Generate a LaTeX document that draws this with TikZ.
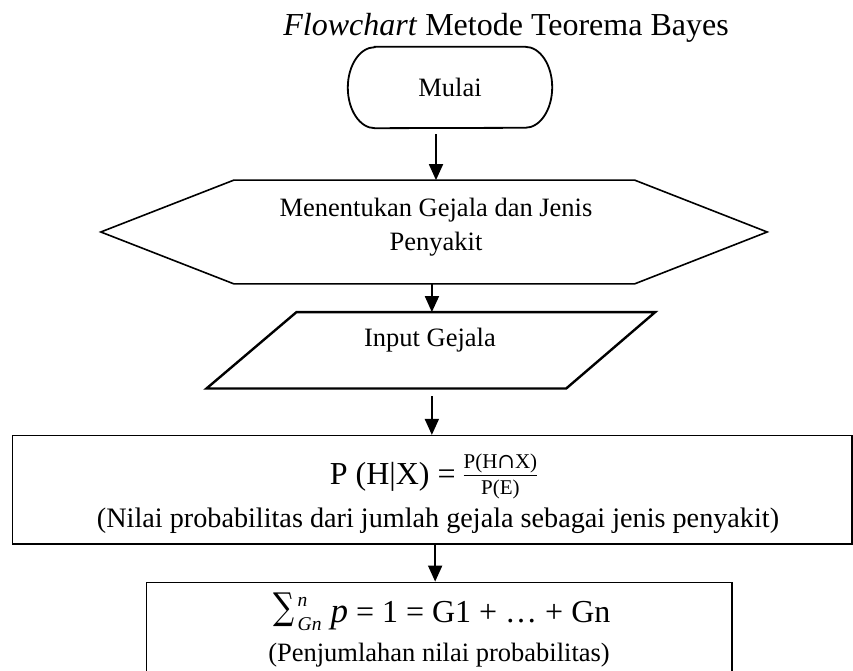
\documentclass[tikz,border=0pt]{standalone}
\usepackage{fontspec}
\setmainfont{Liberation Serif}
\newfontfamily\symfnt{DejaVu Serif}
\usetikzlibrary{arrows.meta,calc}
\newcommand{\myfrac}[2]{\raisebox{-10pt}{\vbox{\halign{\hfil\fontsize{21}{22}\selectfont##\hfil\cr #1\cr\noalign{\kern2.5pt\hrule height 1pt\kern4pt}#2\cr}}}}
\begin{document}
\begin{tikzpicture}[x=1pt,y=1pt,
  arr/.style={line width=1.8pt,-{Triangle[length=16pt,width=14pt]}},
  body/.style={font=\fontsize{26.5}{34}\selectfont},
  big/.style={font=\fontsize{32}{38}\selectfont},
  ghost/.style={inner sep=0pt},
  outline/.style={line width=1.6pt,line join=miter}]
\useasboundingbox (0,0) rectangle (853,671);
\clip (0,0) rectangle (853,671);

% title
\node[big,anchor=base,ghost] (title) at (506,635) {\textit{Flowchart} Metode Teorema Bayes};

% start terminator
\node[body,ghost,minimum width=204pt,minimum height=81pt] (mulai) at (450,583.5) {Mulai};
\draw[outline,line width=1.8pt] ($(mulai.north west)+(27,0)$) -- ($(mulai.north east)+(-27,0)$)
  arc[start angle=90,end angle=-90,x radius=27,y radius=40.5]
  -- ($(mulai.south west)+(27,0)$)
  arc[start angle=270,end angle=90,x radius=27,y radius=40.5] -- cycle;

% hexagon (preparation)
\node[ghost,minimum width=666pt,minimum height=103.3pt] (hex) at (434,439) {};
\draw[outline] (hex.west) -- ($(hex.north west)+(133,0)$) -- ($(hex.north east)+(-132.5,0)$)
  -- (hex.east) -- ($(hex.south east)+(-132.5,0)$) -- ($(hex.south west)+(133,0)$) -- cycle;
\node[body,ghost,align=center,anchor=north] (hext) at (436,473.4) {Menentukan Gejala dan Jenis\\Penyakit};

% input parallelogram
\node[ghost,minimum width=448.3pt,minimum height=76pt] (input) at (430.85,320.7) {};
\draw[outline,line width=2.4pt] ($(input.north west)+(90,0)$) -- (input.north east)
  -- ($(input.south east)+(-89,0)$) -- (input.south west) -- cycle;
\node[body,ghost,anchor=base] (inputt) at (430,324.3) {Input Gejala};

% probability box
\node[draw,line width=1.6pt,ghost,minimum width=839.7pt,minimum height=108.3pt] (pbox) at (432.15,181.15) {};
\node[big,ghost,anchor=base] (formula) at (433.5,186)
  {P (H|X) = \myfrac{P(H{\symfnt ∩}X)}{P(E)}};
\node[ghost,anchor=base,font=\fontsize{28.2}{32}\selectfont] (pdesc) at (438,143)
  {(Nilai probabilitas dari jumlah gejala sebagai jenis penyakit)};

% sum box
\node[draw,line width=1.4pt,ghost,minimum width=585.1pt,minimum height=108.7pt] (sumbox) at (439.25,34.35) {};
\node[big,ghost,anchor=base] (sumf) at (442,48)
  {\raisebox{3pt}{\scalebox{0.8}[1]{\symfnt\fontsize{37}{40}\selectfont ∑}}\kern3pt\rlap{\raisebox{16pt}{\fontsize{19.5}{20}\selectfont\itshape n}}\raisebox{-8pt}{\fontsize{19.5}{20}\selectfont\itshape Gn}\kern9pt{\fontsize{35}{36}\selectfont\itshape p} = 1 = G1 + … + Gn};
\node[body,ghost,anchor=base] (sumdesc) at (439,9.5) {(Penjumlahan nilai probabilitas)};

% connectors
\draw[arr] ([xshift=-14pt,yshift=-6pt]mulai.south) -- ([xshift=2pt]hex.north);
\draw[arr] ([xshift=-2pt]hex.south) -- ([xshift=1pt]input.north);
\draw[arr] ([xshift=1pt,yshift=-7.7pt]input.south) -- ([xshift=1pt]input.south |- pbox.north);
\draw[arr] ([xshift=3pt]pbox.south) -- ([xshift=3pt]pbox.south |- sumbox.north);
\end{tikzpicture}
\end{document}
